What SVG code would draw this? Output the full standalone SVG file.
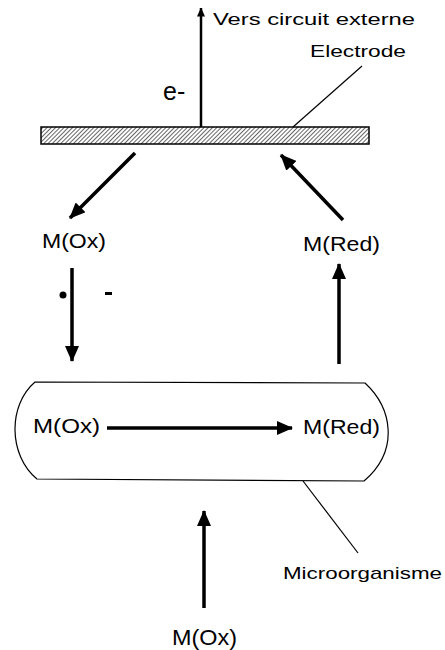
<svg xmlns="http://www.w3.org/2000/svg" width="445" height="650" viewBox="0 0 445 650">
  <style>
    .t { font-family: "Liberation Sans", Arial, sans-serif; fill: #000; }
    .lbl { font-size: 21px; }
    .small { font-size: 17px; }
    .conn { stroke: #000; stroke-width: 3.5; fill: none; }
    .thin { stroke: #000; stroke-width: 1.2; fill: none; }
  </style>
  <defs>
    <marker id="ah" markerUnits="userSpaceOnUse" viewBox="0 0 16 14" refX="15" refY="7" markerWidth="16" markerHeight="14" orient="auto">
      <path d="M0,0 L16,7 L0,14 Z" fill="#000"/>
    </marker>
    <marker id="ahs" markerUnits="userSpaceOnUse" viewBox="0 0 9 8" refX="8.5" refY="4" markerWidth="9" markerHeight="8" orient="auto">
      <path d="M0,0 L9,4 L0,8 Z" fill="#000"/>
    </marker>
    <pattern id="hatch" patternUnits="userSpaceOnUse" width="3" height="3" patternTransform="rotate(45)">
      <line x1="0" y1="0" x2="0" y2="3" stroke="#000" stroke-width="1.2"/>
    </pattern>
  </defs>

  <g id="electrode">
    <rect x="41" y="127" width="328" height="17" fill="url(#hatch)" stroke="#000" stroke-width="1.5"/>
    <text class="t small" x="310" y="57" textLength="96" lengthAdjust="spacingAndGlyphs">Electrode</text>
    <line class="thin" x1="293" y1="127" x2="362" y2="66"/>
  </g>

  <g id="external">
    <text class="t small" x="213" y="25" textLength="202" lengthAdjust="spacingAndGlyphs">Vers circuit externe</text>
    <text class="t" x="163" y="100" font-size="25">e-</text>
  </g>

  <g id="mox-top">
    <text class="t lbl" x="42" y="248" textLength="64" lengthAdjust="spacingAndGlyphs">M(Ox)</text>
    <circle cx="63" cy="295" r="3.5" fill="#000"/>
    <rect x="105" y="292" width="7" height="3" fill="#000"/>
  </g>

  <g id="mred-top">
    <text class="t lbl" x="303" y="251" textLength="77" lengthAdjust="spacingAndGlyphs">M(Red)</text>
  </g>

  <g id="microorganisme">
    <path class="thin" d="M35,382 L365,383 C392,408 400,450 364,481 L37,479 C8,455 8,405 35,382 Z" stroke-width="1.3"/>
    <text class="t lbl" x="33" y="433" textLength="67" lengthAdjust="spacingAndGlyphs">M(Ox)</text>
    <text class="t lbl" x="303" y="434" textLength="77" lengthAdjust="spacingAndGlyphs">M(Red)</text>
    <line class="thin" x1="303" y1="481" x2="358" y2="553"/>
    <text class="t" x="283" y="579" font-size="17" textLength="159" lengthAdjust="spacingAndGlyphs">Microorganisme</text>
  </g>

  <g id="mox-bottom">
    <text class="t" x="172" y="645" font-size="22" textLength="65" lengthAdjust="spacingAndGlyphs">M(Ox)</text>
  </g>

  <g id="connectors">
    <line x1="201" y1="127" x2="201" y2="8" stroke="#000" stroke-width="2.5" marker-end="url(#ahs)"/>
    <line class="conn" x1="135" y1="153" x2="70" y2="218" marker-end="url(#ah)"/>
    <line class="conn" x1="343" y1="220" x2="281" y2="155" marker-end="url(#ah)"/>
    <line class="conn" x1="72" y1="268" x2="72" y2="361" marker-end="url(#ah)"/>
    <line class="conn" x1="339" y1="364" x2="339" y2="264" marker-end="url(#ah)"/>
    <line class="conn" x1="107" y1="428" x2="292" y2="428" marker-end="url(#ah)"/>
    <line class="conn" x1="204" y1="608" x2="204" y2="511" marker-end="url(#ah)"/>
  </g>
</svg>
